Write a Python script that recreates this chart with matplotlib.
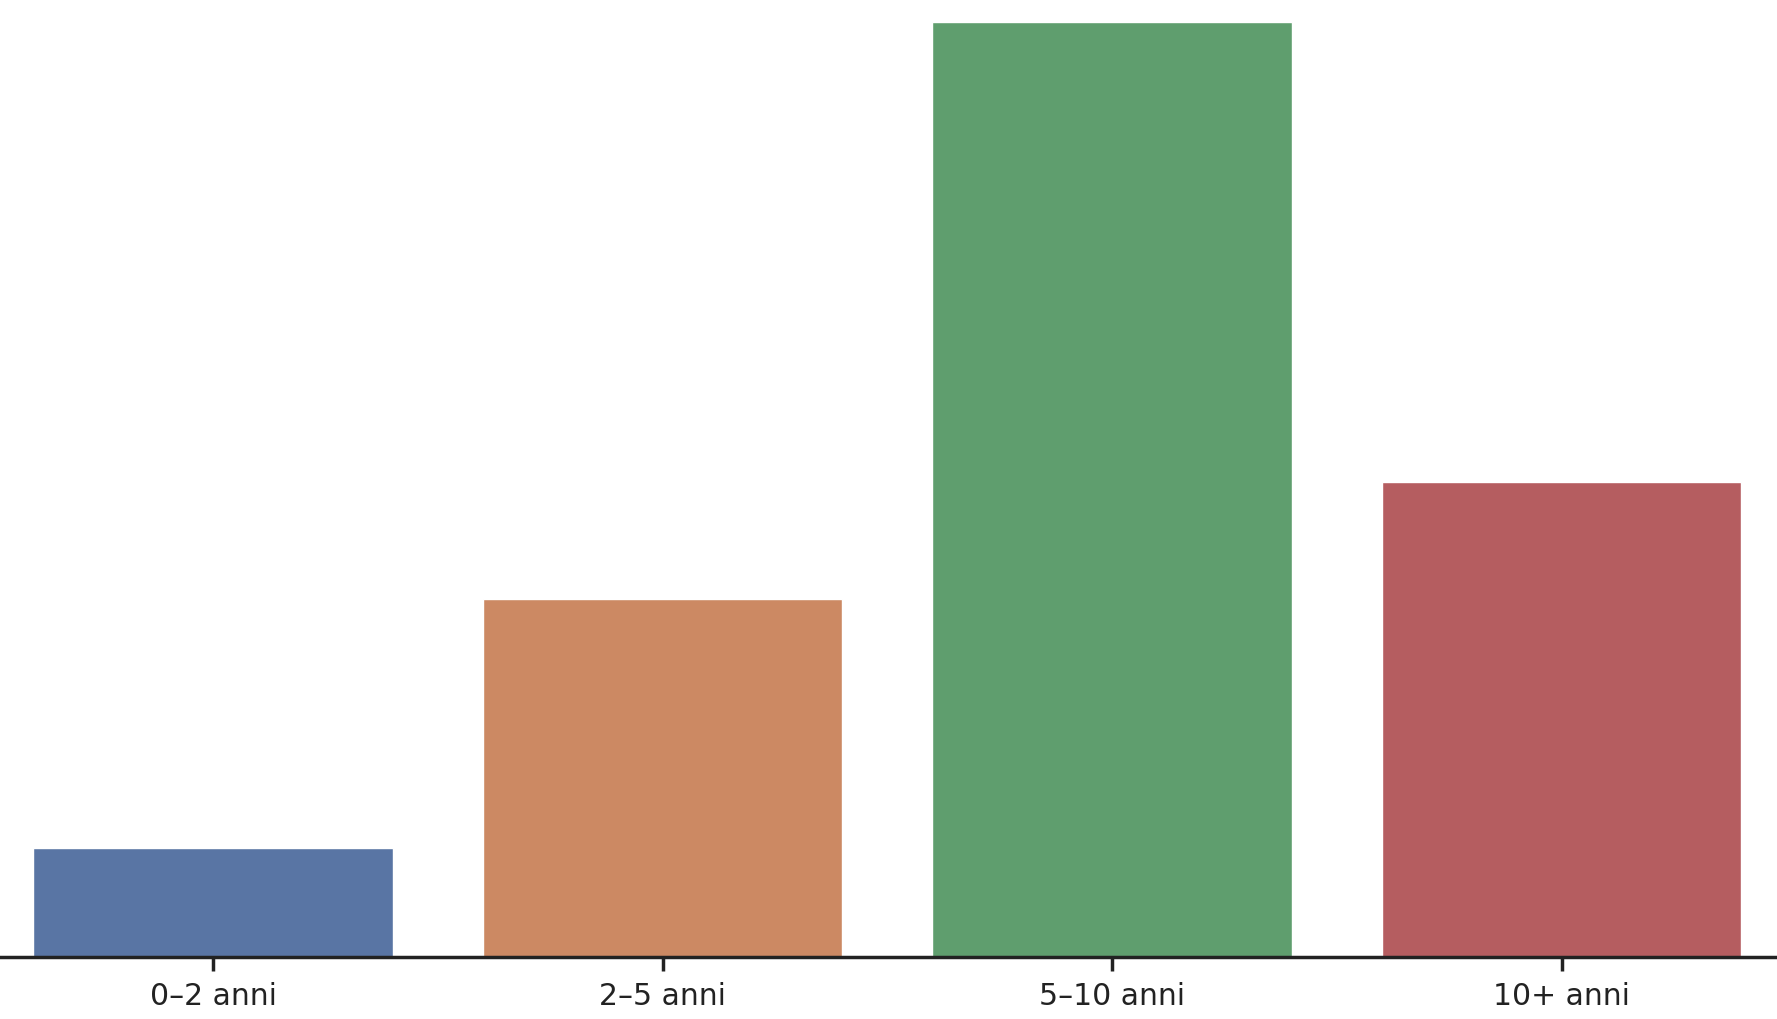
import matplotlib
matplotlib.use("Agg")
import matplotlib.pyplot as plt
import seaborn as sns

sns.set_theme(style="ticks")

categories = ["0–2 anni", "2–5 anni", "5–10 anni", "10+ anni"]
values = [7, 23, 60, 30.5]

fig = plt.figure(figsize=(17.77, 10.19), dpi=100)
ax = fig.add_axes([0.0, 0.061, 1.0, 0.917])
sns.barplot(x=categories, y=values, hue=categories, palette="deep",
            saturation=0.75, legend=False, ax=ax)

ax.set_xlim(-0.474, 3.479)
ax.set_ylim(0, max(values))
ax.set_yticks([])
ax.set_xlabel("")
ax.set_ylabel("")
for s in ["top", "right", "left"]:
    ax.spines[s].set_visible(False)
ax.spines["bottom"].set_linewidth(2.5)
ax.spines["bottom"].set_color("#222222")
ax.tick_params(axis="x", labelsize=21.5, length=10, width=2.5, color="#222222",
               labelcolor="#222222", pad=8)

fig.savefig("out.png", dpi=100)
